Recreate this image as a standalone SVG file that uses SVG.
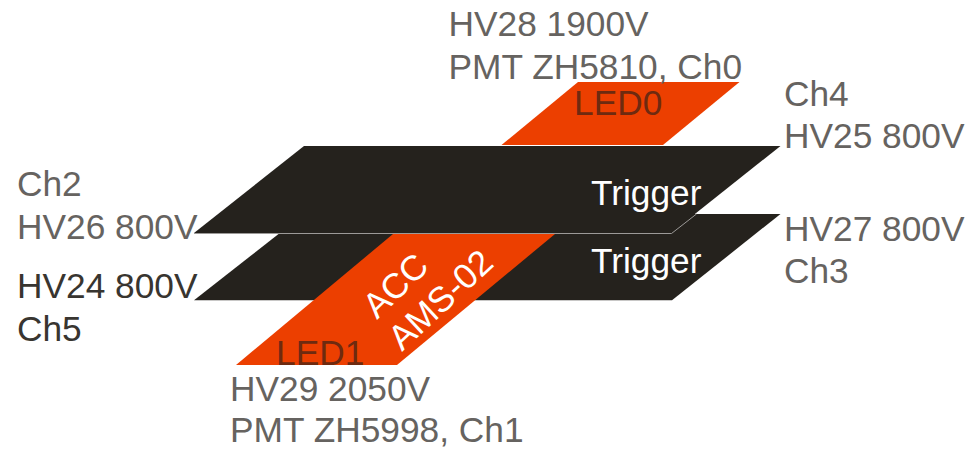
<svg xmlns="http://www.w3.org/2000/svg" width="968" height="449" viewBox="0 0 968 449">
<style>
text{font-family:"Liberation Sans",Arial,sans-serif;font-size:35.3px}
.g{fill:#666360}.k{fill:#383530}.w{fill:#fff}.d{fill:#6e2a10}
.o{fill:#ec3f00}.b{fill:#25221d}
</style>
<rect width="968" height="449" fill="#fff"/>
<g id="led0"><polygon class="o" points="501.500,145 578,82 739.500,82 663,145"/><text class="d" x="574" y="115">LED0</text></g>
<g id="trigger-lower"><polygon class="b" points="194,300.300 304,214 780.500,214 672,300.300"/><text class="w" x="591" y="273">Trigger</text></g>
<g id="trigger-upper"><polygon class="b" points="194,233 304,146 780.500,146 671,233"/><path d="M194,233.500H671.500L696.500,214" fill="none" stroke="#9c9a98" stroke-width="1"/><text class="w" x="591" y="205">Trigger</text></g>
<g id="acc"><polygon class="o" points="236,365 393,234 555,234 397,365"/><text class="w" transform="translate(377,320) rotate(-44)">ACC</text><text class="w" transform="translate(402,352) rotate(-43)">AMS-02</text><text class="d" x="276" y="365">LED1</text></g>
<g id="labels">
<text class="g" x="448.500" y="36">HV28 1900V</text><text class="g" x="448.500" y="79">PMT ZH5810, Ch0</text>
<text class="g" x="784" y="106">Ch4</text><text class="g" x="784" y="148">HV25 800V</text>
<text class="g" x="17" y="196">Ch2</text><text class="g" x="17" y="239">HV26 800V</text>
<text class="k" x="17" y="298">HV24 800V</text><text class="k" x="17" y="341">Ch5</text>
<text class="g" x="784" y="241">HV27 800V</text><text class="g" x="784" y="283">Ch3</text>
<text class="g" x="230" y="401">HV29 2050V</text><text class="g" x="230" y="442">PMT ZH5998, Ch1</text>
</g>
<g id="connectors"></g>
</svg>
